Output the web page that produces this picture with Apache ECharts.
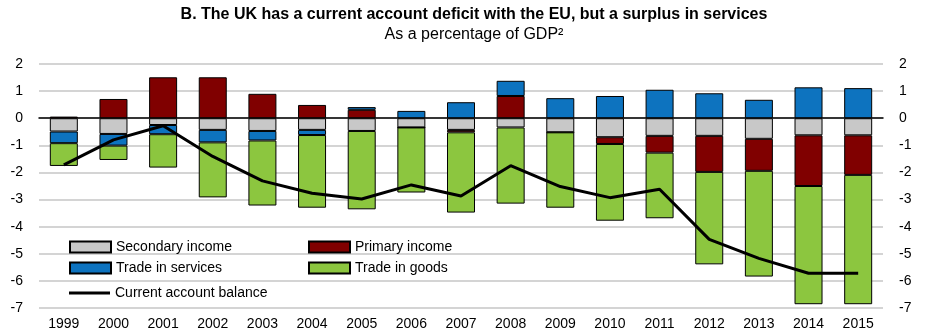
<!DOCTYPE html>
<html><head><meta charset="utf-8">
<script src="https://cdn.jsdelivr.net/npm/echarts@6/dist/echarts.min.js"></script>
<style>html,body{margin:0;padding:0;background:#fff}#c{width:948px;height:335px}</style>
</head><body><div id="c"></div>
<script>
const years = ['1999','2000','2001','2002','2003','2004','2005','2006','2007','2008','2009','2010','2011','2012','2013','2014','2015'];
const secondaryIncome = [-0.49,-0.58,-0.25,-0.43,-0.47,-0.43,-0.47,-0.34,-0.43,-0.34,-0.52,-0.70,-0.65,-0.65,-0.76,-0.63,-0.63];
const primaryIncome   = [0.06,0.71,1.51,1.51,0.90,0.49,0.31,0,-0.09,0.82,0,-0.25,-0.62,-1.33,-1.18,-1.87,-1.46];
const tradeServices   = [-0.43,-0.43,-0.34,-0.46,-0.35,-0.19,0.10,0.27,0.59,0.56,0.74,0.82,1.05,0.92,0.68,1.14,1.11];
const tradeGoods      = [-0.84,-0.53,-1.23,-2.03,-2.40,-2.68,-2.89,-2.40,-2.96,-2.81,-2.78,-2.83,-2.42,-3.41,-3.90,-4.36,-4.77];
const currentAccount  = [-1.72,-0.80,-0.28,-1.41,-2.31,-2.77,-2.98,-2.46,-2.87,-1.75,-2.52,-2.93,-2.62,-4.47,-5.17,-5.72,-5.72];

const FONT = '"Liberation Sans Narrow", "Liberation Sans", Arial, sans-serif';
const chart = echarts.init(document.getElementById('c'));
const barBase = {type:'bar', stack:'ca', barWidth:28};
const legendBase = {orient:'horizontal', padding:0, icon:'rect', itemWidth:41, itemHeight:11, itemGap:5,
  textStyle:{fontFamily:FONT, fontSize:14, color:'#000'}, selectedMode:false};
chart.setOption({
  animation:false,
  title:[
    {text:'B. The UK has a current account deficit with the EU, but a surplus in services', left:'center', top:2, textStyle:{fontFamily:FONT, fontSize:16, fontWeight:'bold', color:'#000'}},
    {text:'As a percentage of GDP²', left:'center', top:22, textStyle:{fontFamily:FONT, fontSize:16, fontWeight:'normal', color:'#000'}}
  ],
  legend:[
    Object.assign({}, legendBase, {data:['Secondary income'], left:69, top:240}),
    Object.assign({}, legendBase, {data:['Primary income'], left:308, top:240}),
    Object.assign({}, legendBase, {data:['Trade in services'], left:69, top:261}),
    Object.assign({}, legendBase, {data:['Trade in goods'], left:308, top:261}),
    Object.assign({}, legendBase, {data:['Current account balance'], left:69, top:281, itemHeight:3, top:286})
  ],
  grid:{left:39, right:65, top:64, bottom:27},
  xAxis:{type:'category', data:years, axisTick:{show:false},
    axisLine:{onZero:true, lineStyle:{color:'#000', width:1.5}},
    axisLabel:{fontFamily:FONT, fontSize:14, color:'#000', margin:9, interval:0}},
  yAxis:[
    {type:'value', min:-7, max:2, interval:1, position:'left',
     axisLabel:{fontFamily:FONT, fontSize:14, color:'#000', margin:16},
     axisLine:{show:false}, axisTick:{show:false},
     splitLine:{lineStyle:{color:'#d4d4d4', width:2}}},
    {type:'value', min:-7, max:2, interval:1, position:'right',
     axisLabel:{fontFamily:FONT, fontSize:14, color:'#000', margin:16},
     axisLine:{show:false}, axisTick:{show:false}, splitLine:{show:false}}
  ],
  series:[
    Object.assign({}, barBase, {name:'Secondary income', data:secondaryIncome, itemStyle:{color:'#c8c8c8', borderColor:'#000', borderWidth:1}}),
    Object.assign({}, barBase, {name:'Primary income', data:primaryIncome, itemStyle:{color:'#800000', borderColor:'#000', borderWidth:1}}),
    Object.assign({}, barBase, {name:'Trade in services', data:tradeServices, itemStyle:{color:'#0d73bf', borderColor:'#000', borderWidth:1}}),
    Object.assign({}, barBase, {name:'Trade in goods', data:tradeGoods, itemStyle:{color:'#8cc63f', borderColor:'#000', borderWidth:1}}),
    {name:'Current account balance', type:'line', data:currentAccount, symbol:'none', showSymbol:false,
     lineStyle:{color:'#000', width:3}, itemStyle:{color:'#000'}, z:5}
  ]
});
</script></body></html>
